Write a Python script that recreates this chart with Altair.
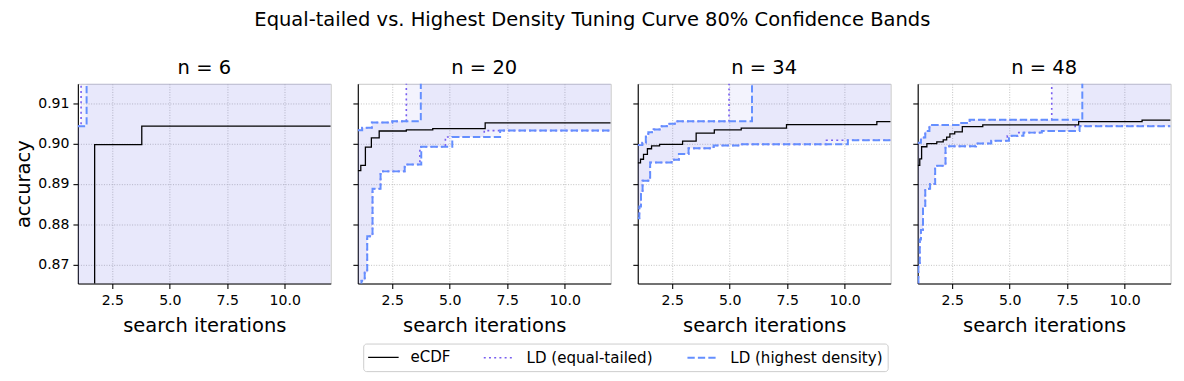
import altair as alt
import numpy as np
import pandas as pd

# ---------------- data ----------------
TOP = 0.93   # stands for an unbounded (+inf) upper band
BOT = 0.85   # stands for an unbounded (-inf) lower band / value below the view

panel_titles = ["n = 6", "n = 20", "n = 34", "n = 48"]
series_names = ["eCDF", "LD (equal-tailed)", "LD (highest density)"]
x_ticks = [2.5, 5.0, 7.5, 10.0]
y_ticks = [0.87, 0.88, 0.89, 0.90, 0.91]

# n = 6
ecdf6_x = [1, 1.73, 3.78, 12]
ecdf6_y = [BOT, 0.8997, 0.9043, 0.9043]
et6_hi_x = [1, 1.14, 12]
et6_hi_y = [0.9043, TOP, TOP]
hd6_hi_x = [1, 1.38, 12]
hd6_hi_y = [0.9043, TOP, TOP]
et6_lo_x = [1, 12]
et6_lo_y = [BOT, BOT]
hd6_lo_x = [1, 12]
hd6_lo_y = [BOT, BOT]

# n = 20
ecdf20_x = [1, 1.13, 1.33, 1.59, 1.93, 3.11, 4.26, 6.54, 12]
ecdf20_y = [0.8933, 0.8946, 0.8991, 0.9014, 0.9031, 0.9034, 0.9037, 0.9051, 0.9051]
et20_hi_x = [1, 1.19, 1.61, 2.5, 3.11, 12]
et20_hi_y = [0.9033, 0.9039, 0.9052, 0.9055, TOP, TOP]
hd20_hi_x = [1, 1.19, 1.61, 2.5, 3.74, 12]
hd20_hi_y = [0.9033, 0.9039, 0.9052, 0.9055, TOP, TOP]
et20_lo_x = [1, 1.16, 1.30, 1.41, 1.64, 1.99, 3.04, 3.70, 4.81, 6.50, 12]
et20_lo_y = [BOT, 0.8660, 0.8680, 0.8770, 0.8888, 0.8931, 0.8948, 0.8992, 0.9016, 0.9032, 0.9032]
hd20_lo_x = [1, 1.16, 1.30, 1.41, 1.64, 1.99, 3.04, 3.76, 5.11, 7.19, 12]
hd20_lo_y = [BOT, 0.8660, 0.8680, 0.8770, 0.8888, 0.8931, 0.8948, 0.8992, 0.9016, 0.9032, 0.9032]

# n = 34
ecdf34_x = [1, 1.12, 1.25, 1.42, 1.60, 1.95, 2.95, 3.54, 4.33, 5.50, 7.47, 11.40, 12]
ecdf34_y = [0.8952, 0.8961, 0.8973, 0.8987, 0.8994, 0.8998, 0.9006, 0.9026, 0.9034, 0.9038, 0.9047, 0.9054, 0.9054]
et34_hi_x = [1, 1.20, 1.35, 1.46, 1.69, 2.04, 2.33, 2.61, 4.97, 12]
et34_hi_y = [0.8996, 0.9002, 0.9017, 0.9028, 0.9035, 0.9043, 0.9049, 0.9055, TOP, TOP]
hd34_hi_x = [1, 1.20, 1.35, 1.46, 1.69, 2.04, 2.33, 2.61, 5.97, 12]
hd34_hi_y = [0.8996, 0.9002, 0.9017, 0.9028, 0.9035, 0.9043, 0.9049, 0.9055, TOP, TOP]
et34_lo_x = [1, 1.07, 1.14, 1.21, 1.54, 2.47, 2.79, 3.21, 4.30, 5.50, 9.21, 12]
et34_lo_y = [0.8815, 0.8844, 0.8880, 0.8908, 0.8953, 0.8960, 0.8974, 0.8988, 0.8995, 0.8998, 0.9008, 0.9008]
hd34_lo_x = [1, 1.07, 1.14, 1.21, 1.54, 2.47, 2.79, 3.21, 4.30, 5.50, 10.14, 12]
hd34_lo_y = [0.8815, 0.8844, 0.8880, 0.8908, 0.8953, 0.8960, 0.8974, 0.8988, 0.8995, 0.8998, 0.9008, 0.9008]

# n = 48
ecdf48_x = [1, 1.09, 1.17, 1.40, 1.83, 2.11, 2.26, 2.40, 2.61, 2.94, 3.83, 8.00, 10.76, 12]
ecdf48_y = [0.8946, 0.8962, 0.8992, 0.9000, 0.9004, 0.9009, 0.9016, 0.9024, 0.9029, 0.9042, 0.9046, 0.9054, 0.9058, 0.9058]
et48_hi_x = [1, 1.14, 1.33, 1.51, 2.83, 3.26, 6.83, 12]
et48_hi_y = [0.9002, 0.9015, 0.9031, 0.9046, 0.9051, 0.9059, TOP, TOP]
hd48_hi_x = [1, 1.14, 1.33, 1.51, 2.83, 3.26, 8.16, 12]
hd48_hi_y = [0.9002, 0.9015, 0.9031, 0.9046, 0.9051, 0.9059, TOP, TOP]
et48_lo_x = [1, 1.03, 1.09, 1.14, 1.23, 1.33, 1.54, 1.76, 2.21, 3.54, 4.20, 4.90, 5.35, 6.40, 7.85, 12]
et48_lo_y = [BOT, 0.8700, 0.8762, 0.8786, 0.8843, 0.8888, 0.8900, 0.8945, 0.8993, 0.9000, 0.9007, 0.9019, 0.9027, 0.9031, 0.9043, 0.9043]
hd48_lo_x = [1, 1.03, 1.09, 1.14, 1.23, 1.33, 1.54, 1.76, 2.21, 3.54, 4.20, 4.97, 5.60, 6.40, 8.04, 12]
hd48_lo_y = [BOT, 0.8700, 0.8762, 0.8786, 0.8843, 0.8888, 0.8900, 0.8945, 0.8993, 0.9000, 0.9007, 0.9019, 0.9027, 0.9031, 0.9043, 0.9043]

# ---------------- tables ----------------
panels = [
    (ecdf6_x, ecdf6_y, et6_lo_x, et6_lo_y, et6_hi_x, et6_hi_y, hd6_lo_x, hd6_lo_y, hd6_hi_x, hd6_hi_y),
    (ecdf20_x, ecdf20_y, et20_lo_x, et20_lo_y, et20_hi_x, et20_hi_y, hd20_lo_x, hd20_lo_y, hd20_hi_x, hd20_hi_y),
    (ecdf34_x, ecdf34_y, et34_lo_x, et34_lo_y, et34_hi_x, et34_hi_y, hd34_lo_x, hd34_lo_y, hd34_hi_x, hd34_hi_y),
    (ecdf48_x, ecdf48_y, et48_lo_x, et48_lo_y, et48_hi_x, et48_hi_y, hd48_lo_x, hd48_lo_y, hd48_hi_x, hd48_hi_y),
]


def step_at(xs, ys, q):
    idx = np.searchsorted(np.asarray(xs), np.asarray(q), side="right") - 1
    return np.asarray(ys)[idx]


def band_rows(name, lo_x, lo_y, hi_x, hi_y):
    xs = sorted(set(lo_x) | set(hi_x))
    return pd.DataFrame({"x": xs, "lo": step_at(lo_x, lo_y, xs),
                         "hi": step_at(hi_x, hi_y, xs), "series": name})


def line_rows(name, side, xs, ys, order):
    return pd.DataFrame({"x": xs, "y": ys, "series": name, "side": side, "k": order})


X_DOM = [1, 12]
Y_DOM = [0.8653, 0.9148]

ET_COLOR = "#785EF0"
HD_COLOR = "#648FFF"
FONT = "DejaVu Sans"
BIG = 19.8

legend = alt.Legend(
    orient="none", legendX=290, legendY=264, direction="horizontal", title=None,
    symbolType="M-2,0H2", symbolSize=240, symbolStrokeWidth=1.6, symbolOffset=7,
    labelFontSize=15.3, labelFont=FONT, labelColor="black", labelOffset=19,
    columnPadding=30, padding=5, strokeColor="#cccccc", fillColor="white",
    cornerRadius=3,
)

color_scale = alt.Scale(domain=series_names, range=["black", ET_COLOR, HD_COLOR])
dash_scale = alt.Scale(domain=series_names, range=[[1, 0], [2, 3.3], [7.4, 3.2]])
width_scale = alt.Scale(domain=series_names, range=[1.3, 2, 2])

charts = []
for i, (title, p) in enumerate(zip(panel_titles, panels)):
    ex, ey, etlx, etly, ethx, ethy, hdlx, hdly, hdhx, hdhy = p
    bands = pd.concat([band_rows("LD (equal-tailed)", etlx, etly, ethx, ethy),
                       band_rows("LD (highest density)", hdlx, hdly, hdhx, hdhy)])
    lines = pd.concat([
        line_rows("LD (equal-tailed)", "lo", etlx, etly, 0),
        line_rows("LD (equal-tailed)", "hi", ethx, ethy, 1),
        line_rows("LD (highest density)", "lo", hdlx, hdly, 2),
        line_rows("LD (highest density)", "hi", hdhx, hdhy, 3),
        line_rows("eCDF", "mid", ex, ey, 4),
    ])

    x_enc = alt.X("x:Q", scale=alt.Scale(domain=X_DOM, nice=False),
                  axis=alt.Axis(values=x_ticks, format=".1f", title="search iterations"))
    if i == 0:
        y_axis = alt.Axis(values=y_ticks, format=".2f", title="accuracy")
    else:
        y_axis = alt.Axis(values=y_ticks, labels=False, title=None)
    y_scale = alt.Scale(domain=Y_DOM, nice=False, zero=False)

    area = alt.Chart(bands).mark_area(
        interpolate="step-after", clip=True, color="#7a7ae6", opacity=0.09
    ).encode(
        x=x_enc,
        y=alt.Y("hi:Q", scale=y_scale, axis=y_axis),
        y2="lo:Q",
        detail="series:N",
    )

    line = alt.Chart(lines).mark_line(interpolate="step-after", clip=True).encode(
        x=x_enc,
        y=alt.Y("y:Q", scale=y_scale, axis=y_axis),
        color=alt.Color("series:N", scale=color_scale, legend=legend),
        strokeDash=alt.StrokeDash("series:N", scale=dash_scale, legend=legend),
        strokeWidth=alt.StrokeWidth("series:N", scale=width_scale, legend=legend),
        detail="side:N",
        order="k:Q",
    )

    charts.append(
        alt.layer(area, line).properties(
            width=257, height=203,
            title=alt.TitleParams(title, fontSize=BIG, font=FONT,
                                  fontWeight="normal", offset=6, color="black"),
        )
    )

chart = alt.hconcat(*charts, spacing=19.5).resolve_scale(
    color="shared", strokeDash="shared", strokeWidth="shared"
).properties(
    title=alt.TitleParams(
        "Equal-tailed vs. Highest Density Tuning Curve 80% Confidence Bands",
        fontSize=BIG, font=FONT, fontWeight="normal", anchor="middle",
        color="black", offset=29),
    padding={"left": 5, "top": -2, "right": 5, "bottom": 5},
).configure_view(
    stroke="#c8c8c8", strokeWidth=1
).configure_axis(
    labelFont=FONT, labelFontSize=14.3, labelColor="black",
    titleFont=FONT, titleFontSize=BIG, titleFontWeight="normal", titleColor="black",
    domainColor="black", domainWidth=1.1, tickColor="black", tickSize=5, tickWidth=1.1,
    labelPadding=4, grid=True, gridColor="#b0b0b0", gridDash=[1, 1.6], gridWidth=0.8,
).configure_axisX(titlePadding=8, labelPadding=5).configure_axisY(titlePadding=4)

chart.save("out.html", embed_options={"renderer": "svg", "actions": False})
